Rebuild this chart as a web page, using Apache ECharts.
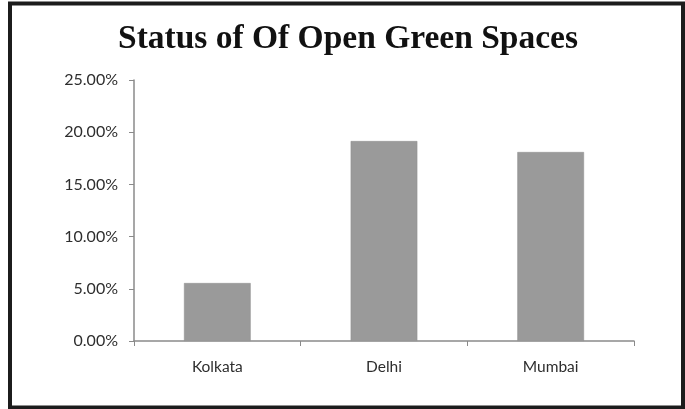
<!DOCTYPE html>
<html>
<head>
<meta charset="utf-8">
<style>
  html, body { margin: 0; padding: 0; background: #fff; }
  #chart { width: 685px; height: 409px; }
</style>
<script src="https://cdn.jsdelivr.net/npm/echarts@6/dist/echarts.min.js"></script>
</head>
<body>
<div id="chart"></div>
<script>
// Share of open green space per city (percent)
const cities = ['Kolkata', 'Delhi', 'Mumbai'];
const greenShare = [5.55, 19.15, 18.1];
const yTicks = { min: 0, max: 25, step: 5 };

const labelFont = 'Lato, "Open Sans", "Liberation Sans", sans-serif';

const chart = echarts.init(document.getElementById('chart'));

chart.setOption({
  animation: false,
  backgroundColor: '#ffffff',
  title: {
    text: 'Status of Of Open Green Spaces',
    left: 118,
    top: 17,
    padding: [5, 0, 5, 0],
    textStyle: {
      fontFamily: '"Liberation Serif", "Times New Roman", serif',
      fontWeight: 'bold',
      fontSize: 33.5,
      color: '#111'
    }
  },
  graphic: [{
    type: 'rect',
    shape: { x: 10, y: 3.5, width: 673, height: 404 },
    style: { fill: 'none', stroke: '#1c1c1c', lineWidth: 4 },
    silent: true
  }],
  grid: { left: 134, right: 51, top: 80, bottom: 68 },
  xAxis: {
    type: 'category',
    data: cities,
    boundaryGap: true,
    axisLine: { lineStyle: { color: '#8a8a8a', width: 1.5 } },
    axisTick: { show: true, length: 5, alignWithLabel: false, lineStyle: { color: '#8a8a8a' } },
    axisLabel: {
      margin: 18,
      fontFamily: labelFont,
      fontSize: 15.5,
      color: '#2e2e2e'
    }
  },
  yAxis: {
    type: 'value',
    min: yTicks.min,
    max: yTicks.max,
    interval: yTicks.step,
    axisLine: { show: true, lineStyle: { color: '#8a8a8a', width: 1.5 } },
    axisTick: { show: true, length: 5, lineStyle: { color: '#8a8a8a' } },
    splitLine: { show: false },
    axisLabel: {
      margin: 16,
      fontFamily: labelFont,
      fontSize: 16,
      color: '#2e2e2e',
      formatter: v => v.toFixed(2) + '%'
    }
  },
  series: [{
    type: 'bar',
    data: greenShare,
    barCategoryGap: '60%',
    itemStyle: { color: '#9a9a9a', borderColor: '#8f8f8f', borderWidth: 0.5 }
  }]
});
</script>
</body>
</html>
